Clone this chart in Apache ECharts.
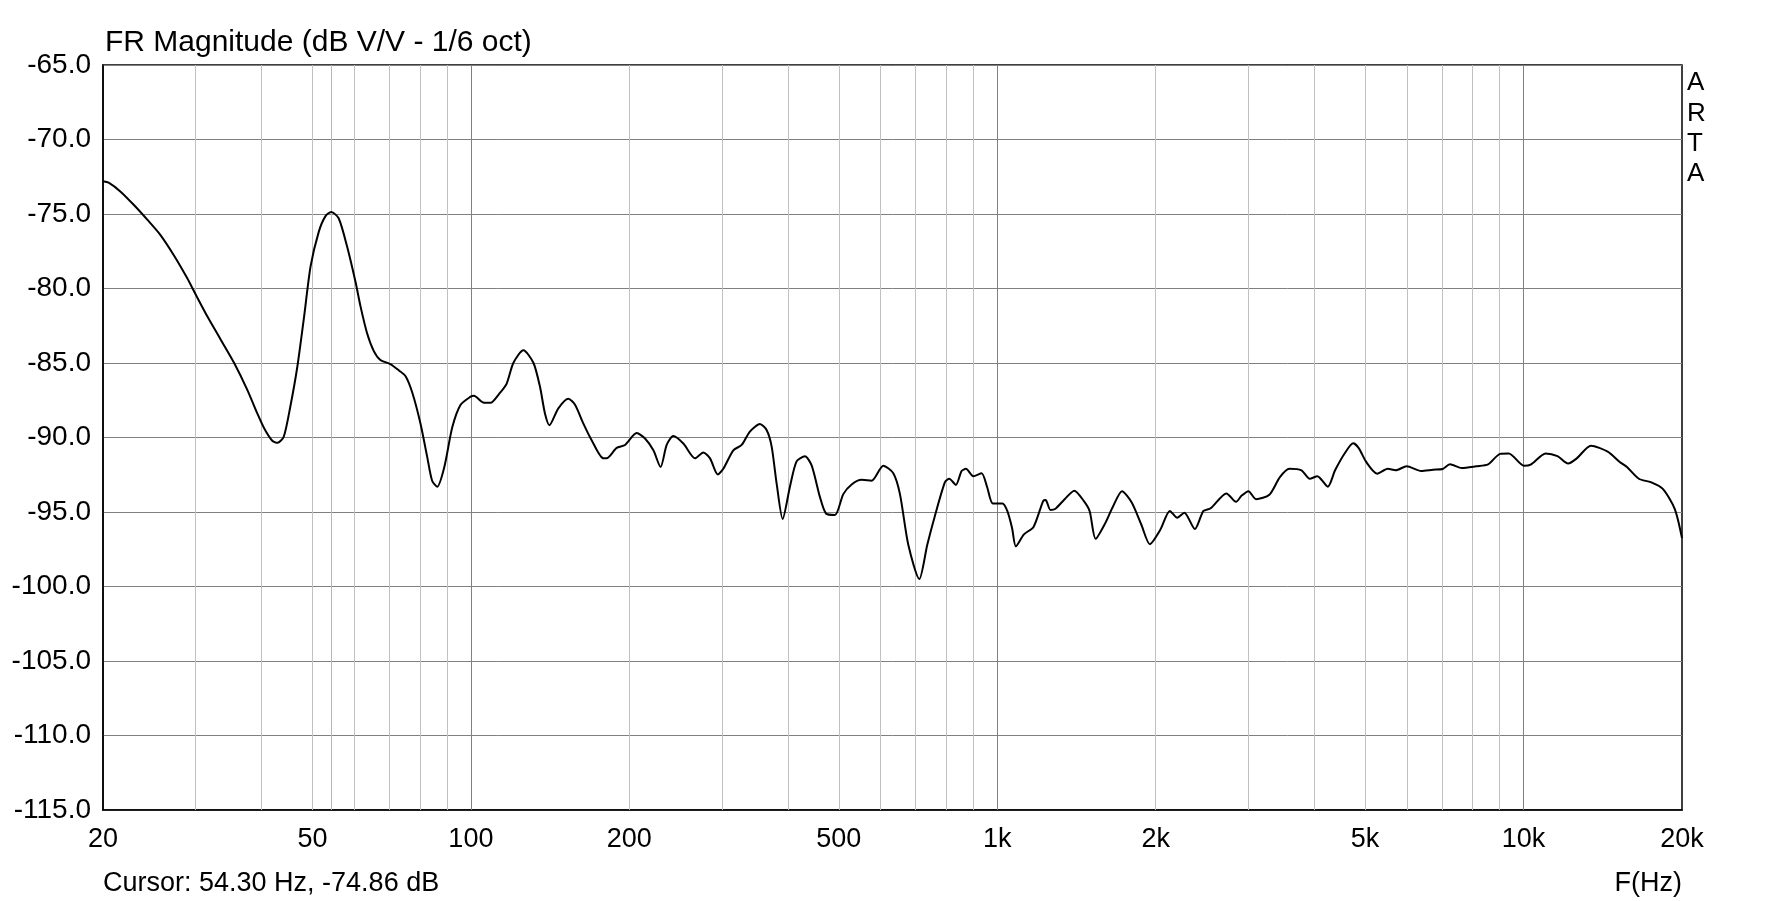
<!DOCTYPE html>
<html>
<head>
<meta charset="utf-8">
<script src="https://cdn.jsdelivr.net/npm/echarts@6/dist/echarts.min.js"></script>
<style>
html,body{margin:0;padding:0;background:#fff;}
#chart{width:1773px;height:901px;}
</style>
</head>
<body>
<div id="chart"></div>
<script>
// Frequency (Hz) and magnitude (dB)
const freqs = [20,20.5,21.6,22.9,24.3,25.7,27.3,28.9,30.0,31.6,33.5,35.5,37.6,39.3,40.5,41.9,42.9,44.1,45.4,46.8,48.2,49.6,51.4,52.9,54.3,56.1,58.2,60.4,61.7,63.5,65.4,67.3,70.3,73.0,75.2,77.4,80.2,82.6,84.4,86.3,89.0,92.2,95.6,99.9,101.3,105.9,109.0,113.0,116.9,120.4,125.8,131.5,135.3,138.3,141.0,146.6,153.2,157.7,163.5,169.6,178.5,181.1,189.2,196.3,206.5,214.2,222.2,229.3,235.5,242.4,253.3,266.7,276.5,284.7,294.4,301.7,315.2,326.9,338.9,354.1,364.6,372.7,381.0,391.1,403.8,415.7,431.2,444.0,460.5,472.8,491.7,510.0,528.9,552.5,577.2,607.5,634.7,653.4,677.7,711.2,736.4,761.5,795.6,810.7,834.6,855.6,872.1,900.5,933.9,957,981,1023,1045,1067,1085,1124,1172,1223,1236,1262,1288,1343,1401,1460,1498,1538,1605,1656,1726,1801,1878,1950,2042,2128,2198,2267,2374,2465,2544,2726,2842,2914,3001,3103,3289,3444,3590,3785,3924,4057,4247,4384,4571,4747,4866,5023,5272,5521,5717,5998,6390,6730,7021,7244,7632,8128,8563,9026,9376,10020,10340,11010,11600,12150,12620,13430,14450,15230,15720,16560,17450,18390,19380,20000];
const magnitudes = [-72.8,-72.9,-73.5,-74.4,-75.4,-76.4,-77.8,-79.3,-80.4,-81.9,-83.45,-85.0,-86.8,-88.4,-89.4,-90.2,-90.36,-89.95,-87.9,-85.25,-81.9,-78.5,-76.2,-75.16,-74.86,-75.3,-77.2,-79.6,-81.2,-83.0,-84.2,-84.8,-85.07,-85.5,-85.9,-87.0,-89.06,-91.3,-92.9,-93.3,-92.0,-89.3,-87.8,-87.26,-87.2,-87.67,-87.67,-87.1,-86.4,-85.0,-84.14,-85.0,-86.6,-88.4,-89.17,-88.04,-87.4,-87.8,-89.05,-90.18,-91.4,-91.4,-90.7,-90.5,-89.7,-90.07,-90.86,-91.98,-90.5,-89.9,-90.4,-91.4,-91.0,-91.4,-92.48,-92.1,-90.86,-90.5,-89.6,-89.1,-89.5,-90.6,-93.1,-95.47,-93.3,-91.6,-91.26,-91.87,-94.0,-95.1,-95.2,-93.8,-93.15,-92.84,-92.9,-91.9,-92.4,-93.8,-97.2,-99.5,-97.2,-95.25,-93.0,-92.77,-93.18,-92.25,-92.1,-92.6,-92.4,-93.34,-94.43,-94.43,-94.93,-96.07,-97.3,-96.5,-96.0,-94.25,-94.2,-94.86,-94.8,-94.14,-93.57,-94.25,-94.93,-96.8,-95.73,-94.7,-93.6,-94.36,-95.84,-97.16,-96.18,-94.93,-95.39,-95.05,-96.14,-94.93,-94.75,-93.75,-94.32,-93.9,-93.6,-94.14,-93.84,-92.66,-92.1,-92.2,-92.77,-92.6,-93.3,-92.2,-91.07,-90.39,-90.73,-91.64,-92.43,-92.1,-92.2,-91.93,-92.25,-92.16,-92.11,-91.8,-92.05,-91.93,-91.8,-91.1,-91.07,-91.9,-91.8,-91.07,-91.25,-91.75,-91.4,-90.55,-90.95,-91.64,-91.98,-92.77,-93.0,-93.45,-94.8,-96.75];
const xTickLabels = [20,50,100,200,500,1000,2000,5000,10000,20000];
const minorGrid = [30,40,50,60,70,80,90,200,300,400,500,600,700,800,900,2000,3000,4000,5000,6000,7000,8000,9000];
const decadeGrid = [100,1000,10000];
const cursorFreq = 54.30;
const cursorDb = -74.86;
const titleText = 'FR Magnitude (dB V/V - 1/6 oct)';

const FONT = "'Liberation Sans', Arial, sans-serif";
const chart = echarts.init(document.getElementById('chart'), null, {renderer:'canvas'});
const data = freqs.map((f,i)=>[f, magnitudes[i]]);

const gridLines = [];
minorGrid.forEach(v=>gridLines.push({xAxis:v, lineStyle:{color:'#c0c0c0', width:1, type:'solid'}}));
decadeGrid.forEach(v=>gridLines.push({xAxis:v, lineStyle:{color:'#808080', width:1, type:'solid'}}));
gridLines.push({xAxis:cursorFreq, lineStyle:{color:'#c8c832', width:1, type:'solid'}});

function fmtHz(v){ return v>=1000 ? (v/1000)+'k' : String(v); }

chart.setOption({
  animation:false,
  backgroundColor:'#ffffff',
  grid:{left:103, right:91, top:65, bottom:91, show:true, borderColor:'#000', borderWidth:1.5, backgroundColor:'transparent'},
  xAxis:{
    type:'log', logBase:10, min:20, max:20000,
    axisLine:{show:true, onZero:false, lineStyle:{color:'#000', width:1.5}},
    axisTick:{show:false},
    splitLine:{show:false},
    minorSplitLine:{show:false},
    axisLabel:{
      customValues:xTickLabels,
      formatter:(v)=>fmtHz(Math.round(v)),
      color:'#000', fontSize:27, fontFamily:FONT, margin:16, showMinLabel:true, showMaxLabel:true
    }
  },
  yAxis:{
    type:'value', min:-115, max:-65, interval:5,
    axisLine:{show:true, lineStyle:{color:'#000', width:1.5}},
    axisTick:{show:false},
    splitLine:{show:true, lineStyle:{color:'#808080', width:1}},
    axisLabel:{formatter:(v)=>v.toFixed(1), color:'#000', fontSize:28, fontFamily:FONT, margin:12}
  },
  series:[
    {
      type:'line', z:1, data:[[20,-115]], showSymbol:false, silent:true,
      lineStyle:{width:0},
      markLine:{silent:true, symbol:['none','none'], label:{show:false}, animation:false, data:gridLines}
    },
    {
      type:'line', z:5, data:data, showSymbol:false, smooth:0.25, silent:true,
      lineStyle:{color:'#000', width:2}
    }
  ],
  graphic:[
    {type:'text', left:105, top:28, style:{text:titleText, font:'30px '+FONT, fill:'#000'}},
    {type:'text', left:103, top:870, style:{text:'Cursor: '+cursorFreq.toFixed(2)+' Hz, '+cursorDb.toFixed(2)+' dB', font:'27px '+FONT, fill:'#000'}},
    {type:'text', right:91, top:870, style:{text:'F(Hz)', font:'27px '+FONT, fill:'#000'}},
    {type:'text', left:1687, top:68, style:{text:'A\nR\nT\nA', font:'26px '+FONT, fill:'#000', lineHeight:30.3}}
  ]
});
</script>
</body>
</html>
